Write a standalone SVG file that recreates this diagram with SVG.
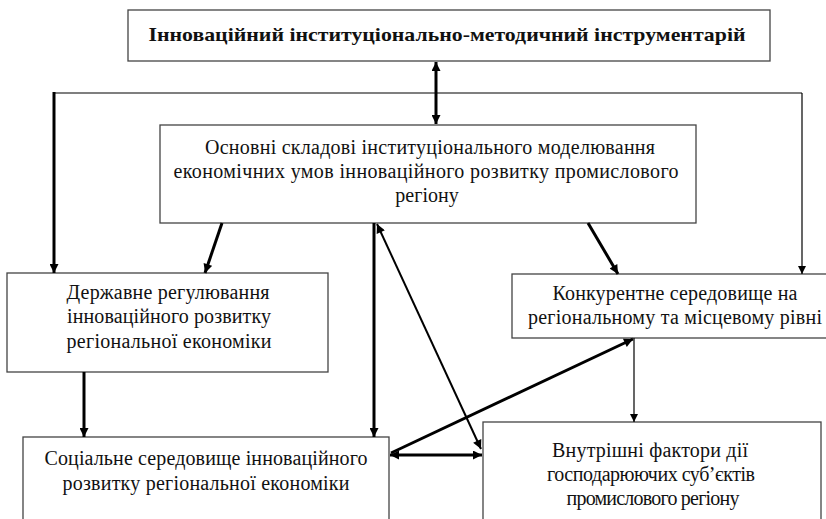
<svg xmlns="http://www.w3.org/2000/svg" width="826" height="519" viewBox="0 0 826 519">
<defs>
<marker id="ah" viewBox="0 0 10 10" refX="10" refY="5" markerWidth="11" markerHeight="9" markerUnits="userSpaceOnUse" orient="auto-start-reverse"><path d="M0,0 L10,5 L0,10 z" fill="#000"/></marker>
<marker id="ahs" viewBox="0 0 10 10" refX="10" refY="5" markerWidth="10" markerHeight="8" markerUnits="userSpaceOnUse" orient="auto-start-reverse"><path d="M0,0 L10,5 L0,10 z" fill="#000"/></marker>
</defs>
<style>
.box{fill:#fff;stroke:#444;stroke-width:1.3}
.t{font-size:20px;fill:#111;text-anchor:middle}
.title{font-size:19px;font-weight:bold;fill:#111;text-anchor:middle}
.thick{stroke:#000;stroke-width:3;fill:none}
.mid{stroke:#000;stroke-width:2;fill:none}
.thin{stroke:#000;stroke-width:1.2;fill:none}
</style>
<rect width="826" height="519" fill="#fff"/>
<g font-family="Liberation Serif, serif">
<g id="n-top"><rect class="box" x="128" y="10" width="642" height="51"/>
<text class="title" x="447" y="41" textLength="597" lengthAdjust="spacingAndGlyphs">Інноваційний інституціонально-методичний інструментарій</text></g>
<g id="n-main"><rect class="box" x="160" y="125" width="536" height="98"/>
<text class="t" x="430" y="154" textLength="450" lengthAdjust="spacing">Основні складові інституціонального моделювання</text>
<text class="t" x="426" y="178" textLength="505" lengthAdjust="spacing">економічних умов інноваційного розвитку промислового</text>
<text class="t" x="427" y="202">регіону</text></g>
<g id="n-state"><rect class="box" x="7" y="273" width="321" height="99"/>
<text class="t" x="168" y="299" textLength="203" lengthAdjust="spacing">Державне регулювання</text>
<text class="t" x="169" y="323" textLength="204" lengthAdjust="spacing">інноваційного розвитку</text>
<text class="t" x="169" y="348" textLength="205" lengthAdjust="spacing">регіональної економіки</text></g>
<g id="n-compet"><rect class="box" x="512" y="274" width="320" height="64"/>
<text class="t" x="675" y="300" textLength="245" lengthAdjust="spacing">Конкурентне середовище на</text>
<text class="t" x="675" y="324" textLength="294" lengthAdjust="spacing">регіональному та місцевому рівні</text></g>
<g id="n-social"><rect class="box" x="23" y="437" width="366" height="100"/>
<text class="t" x="206" y="465" textLength="323" lengthAdjust="spacing">Соціальне середовище інноваційного</text>
<text class="t" x="206" y="490" textLength="287" lengthAdjust="spacing">розвитку регіональної економіки</text></g>
<g id="n-internal"><rect class="box" x="483" y="422" width="338" height="110"/>
<text class="t" x="650" y="457" textLength="196" lengthAdjust="spacing">Внутрішні фактори дії</text>
<text class="t" x="651" y="481" textLength="208" lengthAdjust="spacing">господарюючих суб’єктів</text>
<text class="t" x="653" y="505" textLength="173" lengthAdjust="spacing">промислового регіону</text></g>
</g>
<g id="connectors">
<line class="thick" x1="436" y1="62" x2="436" y2="124" marker-start="url(#ah)" marker-end="url(#ah)"/>
<line class="thin" x1="54" y1="93" x2="802" y2="93"/>
<line class="thick" x1="54" y1="92" x2="54" y2="273" marker-end="url(#ah)"/>
<line class="thin" x1="802" y1="93" x2="802" y2="274" marker-end="url(#ahs)"/>
<line class="thick" x1="222" y1="223" x2="205" y2="273" marker-end="url(#ah)"/>
<line class="thick" x1="588" y1="223" x2="618" y2="274" marker-end="url(#ah)"/>
<line class="thick" x1="84" y1="372" x2="84" y2="437" marker-end="url(#ah)"/>
<line class="thick" x1="374" y1="223" x2="374" y2="437" marker-end="url(#ah)"/>
<line class="mid" x1="377" y1="224" x2="481" y2="449" marker-start="url(#ah)" marker-end="url(#ah)"/>
<line class="thick" x1="390" y1="455" x2="482" y2="455" marker-start="url(#ah)" marker-end="url(#ah)"/>
<line class="thick" x1="391" y1="453" x2="633" y2="339" marker-end="url(#ah)"/>
<line class="thin" x1="634" y1="338" x2="634" y2="422" marker-end="url(#ahs)"/>
</g>
</svg>
